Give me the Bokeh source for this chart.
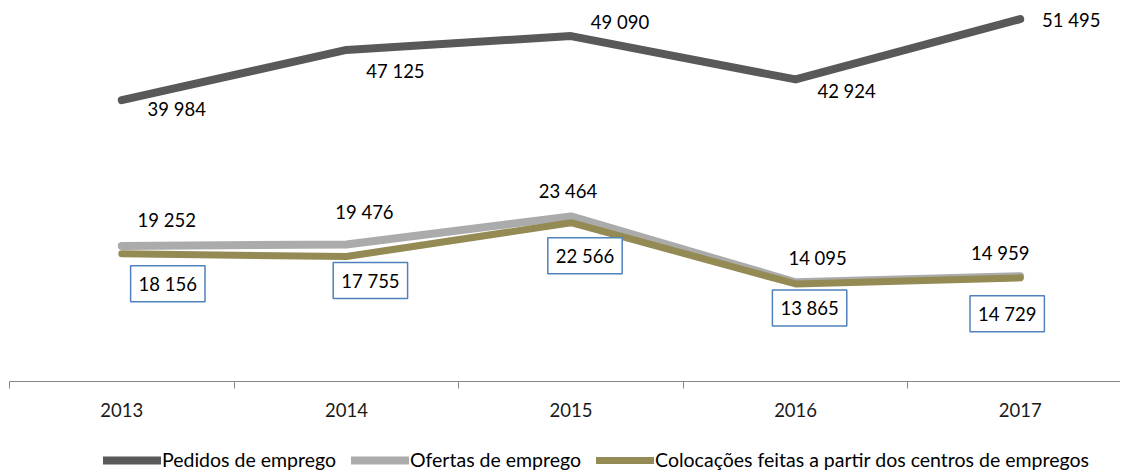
from bokeh.plotting import figure
from bokeh.models import ColumnDataSource, Range1d, FixedTicker, Legend, LegendItem
from bokeh.layouts import column
from bokeh.core.properties import value
from bokeh.embed import file_html
from bokeh.resources import INLINE

years = ["2013", "2014", "2015", "2016", "2017"]
pedidos = [39984, 47125, 49090, 42924, 51495]
ofertas = [19252, 19476, 23464, 14095, 14959]
colocacoes = [18156, 17755, 22566, 13865, 14729]
series_names = ["Pedidos de emprego", "Ofertas de emprego",
                "Colocações feitas a partir dos centros de empregos"]

def fmt(v):
    return f"{v:,}".replace(",", " ")

xs = [i + 0.5 for i in range(len(years))]
FONT = "Lato"
FS = "18.5px"
COLORS = ["#595959", "#ABABAB", "#948A54"]
WIDTHS = [8, 8, 7]

p = figure(frame_width=1111, frame_height=374, output_backend="svg", toolbar_location=None,
           x_range=Range1d(0, 1111 / 224.6), y_range=Range1d(0, 53148),
           y_axis_location=None, min_border_left=9, min_border_right=0,
           min_border_top=7, min_border_bottom=60)
p.outline_line_color = None
p.grid.visible = False
p.background_fill_color = "white"
p.border_fill_color = "white"

ax = p.xaxis[0]
ax.ticker = FixedTicker(ticks=xs, minor_ticks=list(range(len(years) + 1)))
ax.major_label_overrides = {x: y for x, y in zip(xs, years)}
ax.major_tick_out = 0
ax.major_tick_in = 0
ax.minor_tick_out = 7
ax.minor_tick_in = 0
ax.minor_tick_line_color = "#868686"
ax.axis_line_color = "#868686"
ax.major_label_text_font = FONT
ax.major_label_text_font_size = FS
ax.major_label_text_color = "#1a1a1a"
ax.major_label_standoff = 14

for vals, c, w in zip([pedidos, ofertas, colocacoes], COLORS, WIDTHS):
    p.line(xs, vals, line_color=c, line_width=w, line_cap="round", line_join="round")

# label offsets (screen px)
ped_dx = [55, 49, 49, 51, 51]
ped_dy = [9, 21, -14, 12, 1]
of_dx = [45, 18, -3, 22, -20]
of_dy = [-26, -32, -25, -24, -23]
col_dx = [46, 24, 14, 14, -13]
col_dy = [30, 24, 33, 24, 36]

def labels(vals, dx, dy, boxed=False):
    src = ColumnDataSource(dict(x=xs, y=vals, t=[fmt(v) for v in vals], dx=dx, dy=dy))
    kw = {}
    if boxed:
        kw = dict(border_line_color="#4F81BD", border_line_width=1.5,
                  background_fill_color="white", padding=[8, 7])
    p.text("x", "y", text="t", x_offset="dx", y_offset="dy", source=src,
           text_font=value(FONT), text_font_size=FS, text_color="#000000",
           text_align="center", text_baseline="middle", **kw)

labels(pedidos, ped_dx, ped_dy)
labels(ofertas, of_dx, of_dy)
labels(colocacoes, col_dx, col_dy, boxed=True)

# legend strip (same series, drawn outside its visible ranges so only the legend shows)
p2 = figure(width=1120, height=30, output_backend="svg", toolbar_location=None,
            x_range=Range1d(0, 1), y_range=Range1d(-2, -1),
            x_axis_location=None, y_axis_location=None,
            min_border_left=0, min_border_right=0, min_border_top=0, min_border_bottom=0)
p2.outline_line_color = None
p2.grid.visible = False
items = []
for name, vals, c, w in zip(series_names, [pedidos, ofertas, colocacoes], COLORS, WIDTHS):
    r = p2.line(xs, vals, line_color=c, line_width=w, line_cap="round", line_join="round")
    items.append(LegendItem(label=name, renderers=[r]))

legend = Legend(items=items, orientation="horizontal", location=(94, 0),
                glyph_width=58, glyph_height=22, label_height=22, label_standoff=1, spacing=15,
                padding=0, margin=0, border_line_color=None, background_fill_alpha=0,
                label_text_font=FONT, label_text_font_size="19.5px", label_text_color="#000000")
p2.add_layout(legend, "center")

layout = column(p, p2, spacing=0)
open("out.html", "w").write(file_html(layout, INLINE))
